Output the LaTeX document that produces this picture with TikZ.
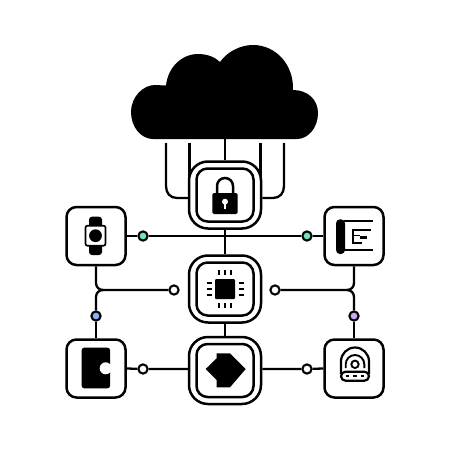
\documentclass[tikz,border=0pt]{standalone}
\usetikzlibrary{backgrounds}
\tikzset{
  box/.style={draw=black,fill=white,line width=2.5pt,rounded corners=10pt,minimum width=59pt,minimum height=58pt,inner sep=0pt},
  outerbox/.style={draw=black,fill=white,line width=2.5pt,rounded corners=19pt,minimum width=72pt,minimum height=67pt,inner sep=0pt},
  innerbox/.style={draw=black,fill=white,line width=2.5pt,rounded corners=11pt,minimum width=57pt,minimum height=53pt,inner sep=0pt},
  dot/.style={circle,draw=black,line width=2.1pt,minimum size=9.2pt,inner sep=0pt},
  wire/.style={draw=black,line width=2.3pt},
  thinline/.style={draw=black,line width=1.9pt}
}
\definecolor{teal1}{HTML}{6FE3C4}
\definecolor{blue1}{HTML}{8AB0F8}
\definecolor{purple1}{HTML}{CFA9F0}
\begin{document}
\begin{tikzpicture}[x=1pt,y=-1pt]
\useasboundingbox (0,0) rectangle (450,450);
% cloud
\fill[black] (153,139) .. controls (141,139) and (131,127) .. (131,112)
  .. controls (131,97) and (143,85) .. (155,85) -- (166,85.5)
  .. controls (168,67) and (182,54) .. (198,54)
  .. controls (207,54) and (215,57) .. (220,62)
  .. controls (227,52) and (240,45) .. (253,45)
  .. controls (276,45) and (294,65) .. (293,90)
  .. controls (308,90) and (318,100) .. (318,113)
  .. controls (318,128) and (308,139) .. (297,139) -- cycle;
\coordinate (cloudb) at (225,138);
\coordinate (w1) at (166,143);
\coordinate (w2) at (189.5,143);
\coordinate (w4) at (260.5,143);
\coordinate (w5) at (284,143);
\coordinate (jl) at (103,290);
\coordinate (jr) at (347,290);
% nodes
\node[outerbox] (lock) at (225,195) {};
\node[outerbox] (chip) at (225,289) {};
\node[outerbox] (bot) at (225,370.5) {};
\node[innerbox] (lockin) at (225,195) {};
\node[innerbox] (chipin) at (225,289) {};
\node[innerbox] (botin) at (225,370.5) {};
\node[box] (watch) at (96,236) {};
\node[box] (phone) at (354,236) {};
\node[box] (wallet) at (96,368.5) {};
\node[box] (robot) at (354,368.5) {};
\node[dot,fill=teal1] (d1) at (143,236) {};
\node[dot,fill=teal1] (d2) at (307,236) {};
\node[dot,fill=white] (d3) at (174,290) {};
\node[dot,fill=white] (d4) at (275,290) {};
\node[dot,fill=blue1] (d5) at (96,316) {};
\node[dot,fill=purple1] (d6) at (354,316) {};
\node[dot,fill=white] (d7) at (143,369) {};
\node[dot,fill=white] (d8) at (307,369) {};
% connectors, behind the nodes
\begin{scope}[on background layer]
\draw[wire] (cloudb) -- (lock.north);
\draw[wire] (w1) -- (166,186) .. controls (166,193) and (170,198) .. (177,198) -- (lock.west |- 0,198);
\draw[wire] (w2) -- (189.5,190);
\draw[wire] (w4) -- (260.5,190);
\draw[wire] (w5) -- (284,186) .. controls (284,193) and (280,198) .. (273,198) -- (lock.east |- 0,198);
\draw[wire] (lock.south) -- (chip.north);
\draw[wire] (chip.south) -- (bot.north);
\draw[wire] (watch.east) -- (d1) -- (d2) -- (phone.west);
\draw[wire] (watch.south) -- (96,283) .. controls (96,287) and (99,290) .. (jl) -- (d3);
\draw[wire] (jl) .. controls (99,290) and (96,293) .. (96,297) -- (d5);
\draw[wire] (d5) -- (wallet.north);
\draw[wire] (phone.south) -- (354,283) .. controls (354,287) and (351,290) .. (jr) -- (d4);
\draw[wire] (jr) .. controls (351,290) and (354,293) .. (354,297) -- (d6);
\draw[wire] (d6) -- (robot.north);
\draw[wire] (wallet.east) -- (d7) -- (bot.west |- d7);
\draw[wire] (bot.east |- d8) -- (d8) -- (robot.west);
\end{scope}
% lock icon
\draw[line width=2.5pt] (217,194) -- (217,186) arc[start angle=180,end angle=360,x radius=8,y radius=8] -- (233,194);
\fill[black,rounded corners=1.5pt] (212.3,193) rectangle (237.7,214);
\fill[white] (225,201.7) circle (3pt);
\fill[white] (223.6,202) rectangle (226.4,208.5);
% chip icon
\fill[black,rounded corners=1pt] (215,279) rectangle (235,299);
\foreach \p in {219,225,231}{
  \draw[thinline] (\p,270) -- (\p,275);
  \draw[thinline] (\p,303) -- (\p,308);
}
\foreach \p in {283,289,295}{
  \draw[thinline] (206.5,\p) -- (211.5,\p);
  \draw[thinline] (238.5,\p) -- (243.5,\p);
}
% arrow-like icon
\fill[black] (205.7,369) -- (216.7,358.3) -- (216.7,353.3) -- (230,353.3) -- (245.7,369) -- (230,387.3) -- (216.7,387.3) -- (216.7,380) -- cycle;
% watch icon
\fill[black,rounded corners=3pt] (89,216.7) rectangle (102,255);
\draw[draw=black,fill=white,line width=1.7pt,rounded corners=2pt] (85.5,225.7) rectangle (105.5,245.7);
\fill[black] (95.5,235.7) circle (6.4pt);
% wallet icon
\fill[black,rounded corners=2.5pt] (81.7,347.7) rectangle (110,388.3);
\fill[white] (105.7,368.3) circle (6pt);
% phone-like icon
\fill[black,rounded corners=4pt] (336,219.3) rectangle (345,254);
\draw[thinline] (344,220.7) -- (372.5,220.7);
\draw[thinline] (344,250) -- (372.5,250);
\draw[draw=black,line width=1.6pt] (371,230) -- (352.7,230) -- (352.7,243) -- (361.5,243);
\draw[draw=black,line width=1.6pt] (352.7,235.5) -- (360,235.5);
\draw[draw=black,line width=2.2pt] (360,237.5) -- (367,237.5);
% robot icon
\draw[draw=black,line width=2.2pt] (341,374) -- (341,361.5) arc[start angle=180,end angle=360,x radius=14,y radius=14] -- (369,374);
\draw[draw=black,fill=white,line width=2.2pt,rounded corners=4.5pt] (341,371.7) rectangle (369,380.7);
\draw[draw=black,line width=1.9pt] (345.7,368) -- (345.7,364.3) arc[start angle=180,end angle=360,x radius=9.3,y radius=9.3] -- (364.3,368);
\draw[draw=black,line width=1.9pt] (355,364.3) circle (3.7pt);
\foreach \a/\b in {345.7/349.3,353.2/356.8,360.7/364.3}{
  \draw[draw=black,line width=1.9pt] (\a,376.2) -- (\b,376.2);
}
\end{tikzpicture}
\end{document}
